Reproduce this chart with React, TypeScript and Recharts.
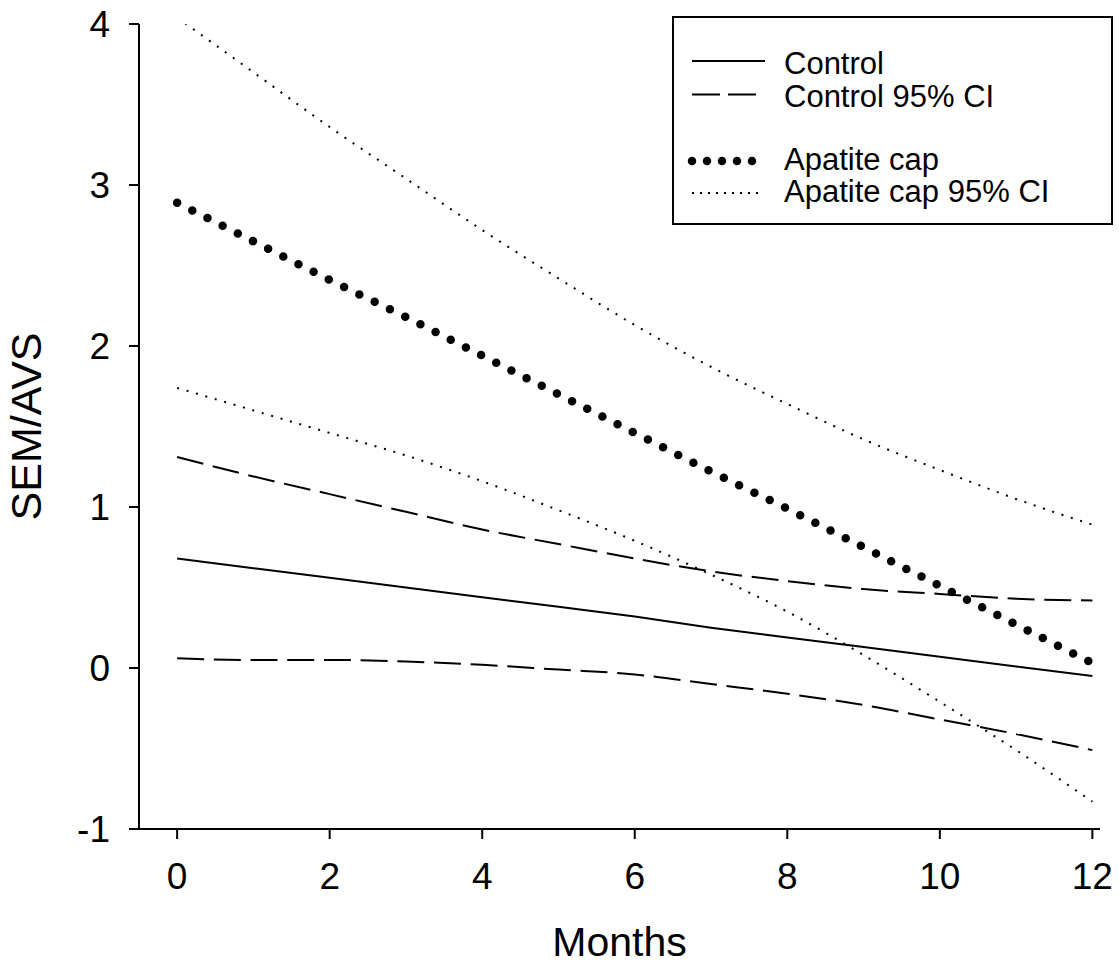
import { Line, LineChart, XAxis, YAxis } from "recharts";

// months 0..12, values
const months = [0, 1, 2, 3, 4, 5, 6, 7, 8, 9, 10, 11, 12];
const control = [0.68, 0.62, 0.56, 0.5, 0.44, 0.38, 0.32, 0.25, 0.19, 0.13, 0.07, 0.01, -0.05];
const controlHi = [1.31, 1.19, 1.08, 0.97, 0.86, 0.77, 0.68, 0.6, 0.54, 0.49, 0.46, 0.43, 0.42];
const controlLo = [0.06, 0.05, 0.05, 0.04, 0.02, -0.01, -0.04, -0.1, -0.16, -0.23, -0.32, -0.41, -0.51];
const apatite = [2.89, 2.65, 2.41, 2.18, 1.94, 1.7, 1.46, 1.22, 0.99, 0.75, 0.51, 0.27, 0.03];
const apatiteHi = [4.04, 3.7, 3.36, 3.04, 2.72, 2.42, 2.13, 1.87, 1.64, 1.42, 1.23, 1.05, 0.89];
const apatiteLo = [1.74, 1.6, 1.46, 1.32, 1.16, 0.98, 0.79, 0.58, 0.35, 0.08, -0.21, -0.51, -0.83];

const xTicks = [0, 2, 4, 6, 8, 10, 12];
const yTicks = [-1, 0, 1, 2, 3, 4];

const legendItems = ["Control", "Control 95% CI", "Apatite cap", "Apatite cap 95% CI"];

const rows = months.map((m, i) => ({
  month: m,
  control: control[i],
  controlHi: controlHi[i],
  controlLo: controlLo[i],
  apatite: apatite[i],
  apatiteHi: apatiteHi[i],
  apatiteLo: apatiteLo[i]
}));

const font = '"Liberation Sans", Arial, sans-serif';

function LegendBox() {
  return (
    <svg
      width={441}
      height={210}
      style={{ position: "absolute", left: 672, top: 16 }}
    >
      <rect x={1} y={1} width={439} height={207} fill="#fff" stroke="#000" strokeWidth={2} />
      <line x1={20} x2={93} y1={45} y2={45} stroke="#000" strokeWidth={2} />
      <line x1={20} x2={85} y1={78.5} y2={78.5} stroke="#000" strokeWidth={2} strokeDasharray="28 8" />
      <line x1={20} x2={81} y1={145} y2={145} stroke="#000" strokeWidth={8.5} strokeLinecap="round" strokeDasharray="0 15" />
      <line x1={20} x2={92} y1={177} y2={177} stroke="#000" strokeWidth={2} strokeDasharray="2 6" />
      {legendItems.map((t, i) => (
        <text key={t} x={112} y={[58, 90.7, 154, 185.7][i]} fontSize={31} fill="#000" fontFamily={font}>
          {t}
        </text>
      ))}
    </svg>
  );
}

export default function App() {
  return (
    <div style={{ position: "absolute", left: 0, top: 0, width: 1119, height: 967, fontFamily: font, background: "#fff" }}>
      <LineChart width={1119} height={967} data={rows} margin={{ top: 24, right: 19, bottom: 0, left: 0 }}>
        <XAxis
          type="number"
          dataKey="month"
          domain={[-0.5, 12.1]}
          ticks={xTicks}
          allowDataOverflow
          height={138}
          tickSize={10}
          tickMargin={24}
          axisLine={{ stroke: "#000", strokeWidth: 2 }}
          tickLine={{ stroke: "#000", strokeWidth: 2 }}
          tick={{ fill: "#000", fontSize: 37 }}
          label={{ value: "Months", position: "insideBottom", offset: 11, fill: "#000", fontSize: 41 }}
        />
        <YAxis
          type="number"
          domain={[-1, 4]}
          ticks={yTicks}
          allowDataOverflow
          width={139}
          tickSize={10}
          tickMargin={19}
          axisLine={{ stroke: "#000", strokeWidth: 2 }}
          tickLine={{ stroke: "#000", strokeWidth: 2 }}
          tick={{ fill: "#000", fontSize: 37 }}
          label={{
            value: "SEM/AVS",
            angle: -90,
            position: "insideLeft",
            offset: 30,
            dx: -4,
            fill: "#000",
            fontSize: 43,
            style: { textAnchor: "middle" }
          }}
        />
        <Line type="linear" dataKey="control" stroke="#000" strokeWidth={2} dot={false} isAnimationActive={false} />
        <Line type="monotone" dataKey="controlHi" stroke="#000" strokeWidth={2} strokeDasharray="27 9.7" dot={false} isAnimationActive={false} />
        <Line type="monotone" dataKey="controlLo" stroke="#000" strokeWidth={2} strokeDasharray="27 9.7" dot={false} isAnimationActive={false} />
        <Line type="linear" dataKey="apatite" stroke="#000" strokeWidth={8.5} strokeLinecap="round" strokeDasharray="0 17" dot={false} isAnimationActive={false} />
        <Line type="monotone" dataKey="apatiteHi" stroke="#000" strokeWidth={2} strokeDasharray="2 7.8" dot={false} isAnimationActive={false} />
        <Line type="monotone" dataKey="apatiteLo" stroke="#000" strokeWidth={2} strokeDasharray="2 7.8" dot={false} isAnimationActive={false} />
      </LineChart>
      <LegendBox />
    </div>
  );
}
